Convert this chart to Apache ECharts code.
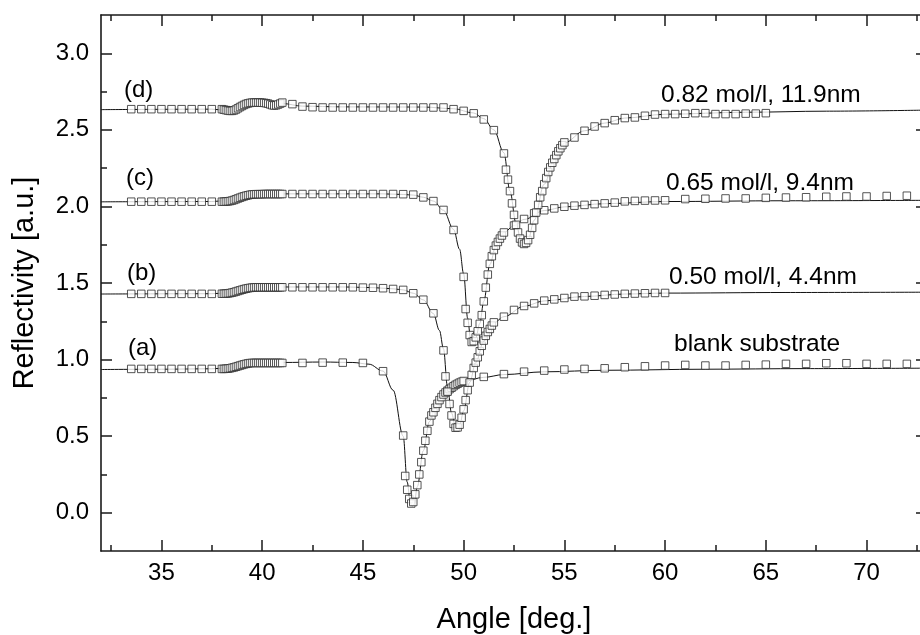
<!DOCTYPE html>
<html>
<head>
<meta charset="utf-8">
<script src="https://cdn.jsdelivr.net/npm/echarts@6/dist/echarts.min.js"></script>
<style>html,body{margin:0;padding:0;background:#fff;}#main{width:920px;height:635px;}</style>
</head>
<body>
<div id="main"></div>
<script>
// ---- tick values ----
const xMajorTicks = [35, 40, 45, 50, 55, 60, 65, 70];
const xMinorTicks = [32.5, 37.5, 42.5, 47.5, 52.5, 57.5, 62.5, 67.5, 72.5];
const yMajorTicks = [0, 0.5, 1.0, 1.5, 2.0, 2.5, 3.0];
const yMinorTicks = [0.25, 0.75, 1.25, 1.75, 2.25, 2.75];

// ---- annotation labels ----
const curveTags = ['(a)', '(b)', '(c)', '(d)'];
const curveNotes = ['blank substrate', '0.50 mol/l, 4.4nm', '0.65 mol/l, 9.4nm', '0.82 mol/l, 11.9nm'];

// ---- (a) blank substrate: measured points ----
const pointsA = [
[33.5,.939],[34,.939],[34.5,.939],[35,.939],[35.5,.939],[36,.939],[36.5,.939],[37,.939],[37.5,.939],
[38.0,.939],[38.1,.939],[38.2,.940],[38.3,.941],[38.4,.943],[38.5,.946],[38.6,.949],[38.7,.953],[38.8,.957],[38.9,.961],
[39.0,.965],[39.1,.969],[39.2,.972],[39.3,.975],[39.4,.977],[39.5,.978],[39.6,.978],[39.7,.978],[39.8,.978],[39.9,.978],
[40.0,.978],[40.1,.978],[40.2,.978],[40.3,.978],[40.4,.978],[40.5,.978],[40.6,.978],[40.7,.978],[40.8,.978],[40.9,.978],[41.0,.978],
[42,.978],[43,.980],[44,.980],[45,.978],[46,.924],[47,.504],
[47.1,.24],[47.2,.15],[47.3,.09],[47.4,.06],[47.5,.07],[47.6,.12],[47.7,.18],[47.8,.25],[47.9,.33],
[48.0,.405],[48.1,.47],[48.2,.535],[48.3,.595],[48.4,.635],[48.5,.656],[48.6,.685],[48.7,.711],[48.8,.735],[48.9,.755],
[49.0,.772],[49.1,.785],[49.2,.797],[49.3,.807],[49.4,.816],[49.5,.826],[49.6,.835],[49.7,.842],[49.8,.849],[49.9,.855],[50.0,.86],
[51,.887],[52,.905],[53,.921],[54,.928],[55,.935],[56,.939],[57,.943],[58,.950],[59,.956],[60,.961],
[61,.965],[62,.961],[63,.961],[64,.965],[65,.967],[66,.972],[67,.972],[68,.976],[69,.976],[70,.972],[71,.972],[72,.972]
];
// ---- (a) fitted curve ----
const fitA = [
[32,.935],[35,.937],[37.5,.940],[38.5,.946],[39.5,.975],[41,.981],[43,.984],[44.5,.981],[45.3,.970],[46,.925],
[46.5,.80],[47,.50],[47.2,.20],[47.35,.07],[47.45,.04],[47.55,.06],[47.7,.17],[48,.405],[48.3,.595],[48.6,.685],
[49,.77],[49.5,.828],[50,.857],[51,.884],[52,.902],[54,.920],[57,.930],[62,.937],[67,.941],[73,.944]
];

// ---- (b) 0.50 mol/l: measured points ----
const pointsB = [
[33.5,1.429],[34,1.429],[34.5,1.429],[35,1.429],[35.5,1.429],[36,1.429],[36.5,1.429],[37,1.429],[37.5,1.429],
[38.0,1.430],[38.1,1.430],[38.2,1.431],[38.3,1.432],[38.4,1.434],[38.5,1.437],[38.6,1.440],[38.7,1.444],[38.8,1.448],[38.9,1.452],
[39.0,1.456],[39.1,1.460],[39.2,1.463],[39.3,1.466],[39.4,1.468],[39.5,1.470],[39.6,1.471],[39.7,1.472],[39.8,1.472],[39.9,1.472],
[40.0,1.472],[40.1,1.472],[40.2,1.472],[40.3,1.472],[40.4,1.472],[40.5,1.472],[40.6,1.472],[40.7,1.472],[40.8,1.472],[40.9,1.472],[41.0,1.472],
[41.5,1.472],[42,1.472],[42.5,1.472],[43,1.472],[43.5,1.472],[44,1.472],[44.5,1.472],[45,1.470],[45.5,1.469],[46,1.466],
[46.5,1.461],[47,1.455],[47.5,1.433],[48,1.391],[48.5,1.302],
[49.0,1.06],[49.1,.89],[49.2,.79],[49.3,.71],[49.4,.635],[49.5,.58],[49.6,.555],[49.7,.557],[49.8,.575],[49.9,.62],
[50.0,.675],[50.1,.735],[50.2,.80],[50.3,.85],[50.4,.90],[50.5,.945],[50.6,.98],[50.7,1.015],[50.8,1.054],[50.9,1.09],
[51.0,1.124],[51.1,1.155],[51.2,1.18],[51.3,1.20],[51.4,1.222],[51.5,1.243],
[52,1.28],[52.5,1.324],[53,1.35],[53.5,1.367],[54,1.385],[54.5,1.393],[55,1.402],[55.5,1.411],[56,1.413],[56.5,1.417],
[57,1.422],[57.5,1.425],[58,1.429],[58.5,1.431],[59,1.433],[59.5,1.435],[60,1.435]
];
const fitB = [
[32,1.428],[37.5,1.430],[38.5,1.437],[39.5,1.465],[41,1.474],[44,1.474],[45.5,1.470],[46.5,1.462],[47,1.455],[47.5,1.433],
[48,1.39],[48.5,1.30],[48.8,1.19],[49.0,1.07],[49.2,.82],[49.4,.65],[49.6,.56],[49.7,.55],[49.8,.57],[50,.665],
[50.3,.85],[50.6,.98],[51,1.12],[51.5,1.24],[52,1.28],[53,1.348],[54,1.383],[56,1.412],[58,1.428],[60,1.434],[66,1.438],[73,1.44]
];

// ---- (c) 0.65 mol/l: measured points ----
const pointsC = [
[33.5,2.031],[34,2.031],[34.5,2.031],[35,2.031],[35.5,2.031],[36,2.031],[36.5,2.031],[37,2.031],[37.5,2.031],
[38.0,2.031],[38.1,2.031],[38.2,2.032],[38.3,2.033],[38.4,2.035],[38.5,2.038],[38.6,2.042],[38.7,2.047],[38.8,2.052],[38.9,2.057],
[39.0,2.062],[39.1,2.066],[39.2,2.070],[39.3,2.073],[39.4,2.076],[39.5,2.078],[39.6,2.079],[39.7,2.080],[39.8,2.080],[39.9,2.080],
[40.0,2.080],[40.1,2.081],[40.2,2.081],[40.3,2.081],[40.4,2.081],[40.5,2.081],[40.6,2.081],[40.7,2.081],[40.8,2.081],[40.9,2.081],[41.0,2.081],
[41.5,2.081],[42,2.081],[42.5,2.081],[43,2.081],[43.5,2.081],[44,2.081],[44.5,2.081],[45,2.081],[45.5,2.081],[46,2.081],
[46.5,2.081],[47,2.080],[47.5,2.077],[48,2.059],[48.5,2.035],[49,1.977],[49.5,1.846],[50.0,1.54],
[50.1,1.33],[50.2,1.24],[50.3,1.16],[50.4,1.115],[50.5,1.12],[50.6,1.145],[50.7,1.185],[50.8,1.233],[50.9,1.29],
[51.0,1.38],[51.1,1.47],[51.2,1.555],[51.3,1.625],[51.4,1.675],[51.5,1.715],[51.6,1.744],[51.7,1.768],[51.8,1.79],[51.9,1.81],[52.0,1.83],
[52.5,1.875],[53,1.918],[53.5,1.955],[54,1.975],[54.5,1.987],[55,1.998],[55.5,2.005],[56,2.01],[56.5,2.015],[57,2.02],
[57.5,2.025],[58,2.033],[58.5,2.036],[59,2.038],[59.5,2.039],[60,2.04],
[61,2.048],[62,2.05],[63,2.052],[64,2.052],[65,2.056],[66,2.058],[67,2.06],[68,2.063],[69,2.065],[70,2.065],[71,2.068],[72,2.07]
];
const fitC = [
[32,2.030],[37.5,2.032],[38.5,2.040],[39.5,2.070],[41,2.082],[46,2.082],[47,2.078],[47.5,2.074],[48,2.06],[48.5,2.035],
[49,1.975],[49.5,1.85],[49.8,1.72],[50,1.56],[50.2,1.27],[50.35,1.13],[50.45,1.105],[50.6,1.14],[50.8,1.235],[51,1.38],
[51.3,1.62],[51.6,1.742],[52,1.83],[52.5,1.875],[53,1.915],[54,1.973],[55,1.997],[57,2.018],[60,2.032],[66,2.037],[73,2.04]
];

// ---- (d) 0.82 mol/l: measured points ----
const pointsD = [
[33.5,2.635],[34,2.635],[34.5,2.635],[35,2.635],[35.5,2.635],[36,2.635],[36.5,2.635],[37,2.635],[37.5,2.635],
[38.0,2.635],[38.1,2.632],[38.2,2.629],[38.3,2.626],[38.4,2.624],[38.5,2.624],[38.6,2.627],[38.7,2.633],[38.8,2.641],[38.9,2.649],
[39.0,2.656],[39.1,2.663],[39.2,2.669],[39.3,2.673],[39.4,2.676],[39.5,2.678],[39.6,2.678],[39.7,2.678],[39.8,2.678],[39.9,2.678],
[40.0,2.677],[40.1,2.676],[40.2,2.674],[40.3,2.671],[40.4,2.666],[40.5,2.661],[40.6,2.659],[40.7,2.661],[40.8,2.666],[40.9,2.672],[41.0,2.678],
[41.5,2.668],[42,2.652],[42.5,2.648],[43,2.646],[43.5,2.646],[44,2.646],[44.5,2.646],[45,2.646],[45.5,2.646],[46,2.646],
[46.5,2.646],[47,2.646],[47.5,2.646],[48,2.646],[48.5,2.646],[49,2.646],[49.5,2.635],[50,2.624],[50.5,2.608],[51,2.568],
[51.5,2.498],[52.0,2.346],
[52.1,2.24],[52.2,2.175],[52.3,2.10],[52.4,2.02],[52.5,1.945],[52.6,1.88],[52.7,1.83],[52.8,1.79],[52.9,1.765],
[53.0,1.755],[53.1,1.762],[53.2,1.78],[53.3,1.815],[53.4,1.86],[53.5,1.91],[53.6,1.96],[53.7,2.01],[53.8,2.06],[53.9,2.10],
[54.0,2.145],[54.1,2.185],[54.2,2.225],[54.3,2.255],[54.4,2.285],[54.5,2.31],[54.6,2.335],[54.7,2.36],[54.8,2.38],[54.9,2.40],[55.0,2.418],
[55.5,2.45],[56,2.494],[56.5,2.522],[57,2.544],[57.5,2.563],[58,2.577],[58.5,2.581],[59,2.592],[59.5,2.60],[60,2.603],
[60.5,2.603],[61,2.605],[61.5,2.609],[62,2.609],[62.5,2.603],[63,2.603],[63.5,2.603],[64,2.606],[64.5,2.606],[65,2.609]
];
const fitD = [
[32,2.632],[37.5,2.635],[38.4,2.626],[39.5,2.675],[40.4,2.666],[41,2.672],[42,2.655],[44,2.650],[48,2.649],[49.5,2.638],
[50.5,2.61],[51,2.573],[51.5,2.50],[52,2.35],[52.3,2.10],[52.6,1.89],[52.85,1.775],[53,1.75],[53.2,1.78],[53.5,1.91],
[54,2.145],[54.5,2.31],[55,2.415],[56,2.494],[57,2.544],[58,2.577],[60,2.602],[64,2.615],[68,2.622],[73,2.629]
];

const FONT = '"Liberation Sans", Arial, sans-serif';
const INK = '#1a1a1a';

function xAx(pos, ticks, len, withLabels, withLine) {
  return {
    type: 'value', position: pos, min: 32, max: 73,
    axisLine: { show: withLine, onZero: false, lineStyle: { color: INK, width: 1.6 } },
    axisTick: { show: true, inside: true, length: len, customValues: ticks, lineStyle: { color: INK, width: 1.5 } },
    axisLabel: withLabels ? { show: true, customValues: ticks, color: '#000', fontSize: 24, fontFamily: FONT, margin: 10 } : { show: false },
    splitLine: { show: false }
  };
}
function yAx(pos, ticks, len, withLabels, withLine) {
  return {
    type: 'value', position: pos, min: -0.25, max: 3.25,
    axisLine: { show: withLine, onZero: false, lineStyle: { color: INK, width: 1.6 } },
    axisTick: { show: true, inside: true, length: len, customValues: ticks, lineStyle: { color: INK, width: 1.5 } },
    axisLabel: withLabels ? { show: true, customValues: ticks, color: '#000', fontSize: 24, fontFamily: FONT, margin: 12,
      formatter: v => v.toFixed(1) } : { show: false },
    splitLine: { show: false }
  };
}

const xAxes = [
  Object.assign(xAx('bottom', xMajorTicks, 11, true, true), {
    name: 'Angle [deg.]', nameLocation: 'middle', nameGap: 54,
    nameTextStyle: { color: '#000', fontSize: 29, fontFamily: FONT }
  }),
  xAx('bottom', xMinorTicks, 6, false, false),
  xAx('top', xMajorTicks, 11, false, true),
  xAx('top', xMinorTicks, 6, false, false)
];
const yAxes = [
  Object.assign(yAx('left', yMajorTicks, 11, true, true), {
    name: 'Reflectivity [a.u.]', nameLocation: 'middle', nameGap: 62,
    nameTextStyle: { color: '#000', fontSize: 29, fontFamily: FONT }
  }),
  yAx('left', yMinorTicks, 6, false, false),
  yAx('right', yMajorTicks, 11, false, true),
  yAx('right', yMinorTicks, 6, false, false)
];

const fits = [fitA, fitB, fitC, fitD];
const points = [pointsA, pointsB, pointsC, pointsD];
const series = [];
fits.forEach(f => series.push({
  type: 'line', data: f, xAxisIndex: 0, yAxisIndex: 0, showSymbol: false, symbol: 'none',
  smooth: 0.35, smoothMonotone: 'x', lineStyle: { color: '#111', width: 1 }, z: 2, silent: true
}));
points.forEach(p => series.push({
  type: 'scatter', data: p, xAxisIndex: 0, yAxisIndex: 0, symbol: 'rect', symbolSize: 7.5,
  itemStyle: { color: '#fff', borderColor: '#2a2a2a', borderWidth: 1 }, z: 3, silent: true
}));

const tagPos = [[128, 348], [127, 273], [126, 178], [124, 90]];
const notePos = [[674, 344], [669, 277], [666, 183], [661, 95]];
const graphics = [];
curveTags.forEach((t, i) => graphics.push({ type: 'text', x: tagPos[i][0], y: tagPos[i][1],
  style: { text: t, fill: '#000', font: '24px ' + FONT, verticalAlign: 'middle', align: 'left' }, z: 10 }));
curveNotes.forEach((t, i) => graphics.push({ type: 'text', x: notePos[i][0], y: notePos[i][1],
  style: { text: t, fill: '#000', font: '24.5px ' + FONT, verticalAlign: 'middle', align: 'left' }, z: 10 }));

const chart = echarts.init(document.getElementById('main'), null, { renderer: 'canvas' });
chart.setOption({
  animation: false,
  backgroundColor: '#fff',
  grid: { left: 101, right: -7, top: 15, bottom: 84, containLabel: false, outerBoundsMode: 'none' },
  xAxis: xAxes,
  yAxis: yAxes,
  series: series,
  graphic: graphics
});
</script>
</body>
</html>
